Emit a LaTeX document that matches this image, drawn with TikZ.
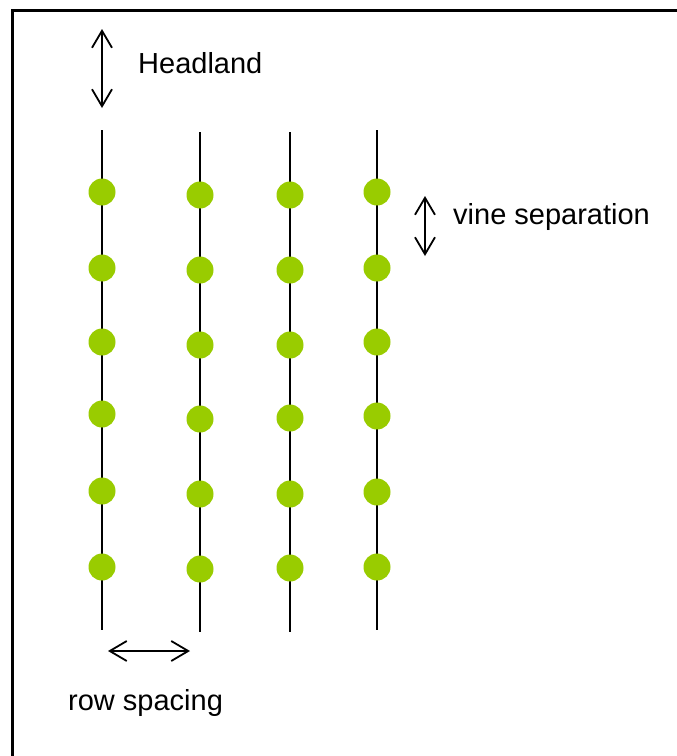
\documentclass[tikz,border=0pt]{standalone}
\usepackage{fontspec}
\setmainfont{Liberation Sans}
\usetikzlibrary{arrows.meta}
\definecolor{vinegreen}{RGB}{153,204,0}
\begin{document}
\begin{tikzpicture}[x=1pt,y=-1pt,
  vine/.style={circle,fill=vinegreen,inner sep=0pt,minimum size=27pt},
  rowline/.style={line width=1.8pt},
  dimarrow/.style={line width=1.8pt,
    {Straight Barb[length=17pt,width=20pt]}-{Straight Barb[length=17pt,width=20pt]}},
  lbl/.style={font=\fontsize{29}{34}\selectfont,anchor=base west,inner sep=0pt}]
\useasboundingbox (0,0) rectangle (677,756);
% outer frame, running off the right and bottom edges
\draw[line width=2.5pt] (12.5,10.5) rectangle (700,790);

% vine rows: x position, top and bottom of the wire, then the vine positions
\foreach \r/\x/\t/\b/\ys in {
    1/102/130/630/{192,268,342,414,491,567},
    2/200/132/632/{195,270,345,419,494,569},
    3/290/132/632/{195,270,345,418,494,568},
    4/377/130/630/{192,268,342,416,492,567}} {
  \coordinate (top\r) at (\x,\t);
  \coordinate (bot\r) at (\x,\b);
  \draw[rowline] (top\r) -- (bot\r);
  \foreach \y [count=\k] in \ys {
    \node[vine] (v\r-\k) at (\x,\y) {};
  }
}

% headland
\coordinate (hlA) at (102,29);
\coordinate (hlB) at (102,108);
\draw[dimarrow] (hlA) -- (hlB);
\node[lbl] (headland) at (138,73) {Headland};

% vine separation
\coordinate (vsA) at (425,196);
\coordinate (vsB) at (425,256);
\draw[dimarrow] (vsA) -- (vsB);
\node[lbl] (vinesep) at (453,224) {vine separation};

% row spacing
\coordinate (rsA) at (108,651);
\coordinate (rsB) at (190,651);
\draw[dimarrow] (rsA) -- (rsB);
\node[lbl] (rowsp) at (68,710) {row spacing};
\end{tikzpicture}
\end{document}
